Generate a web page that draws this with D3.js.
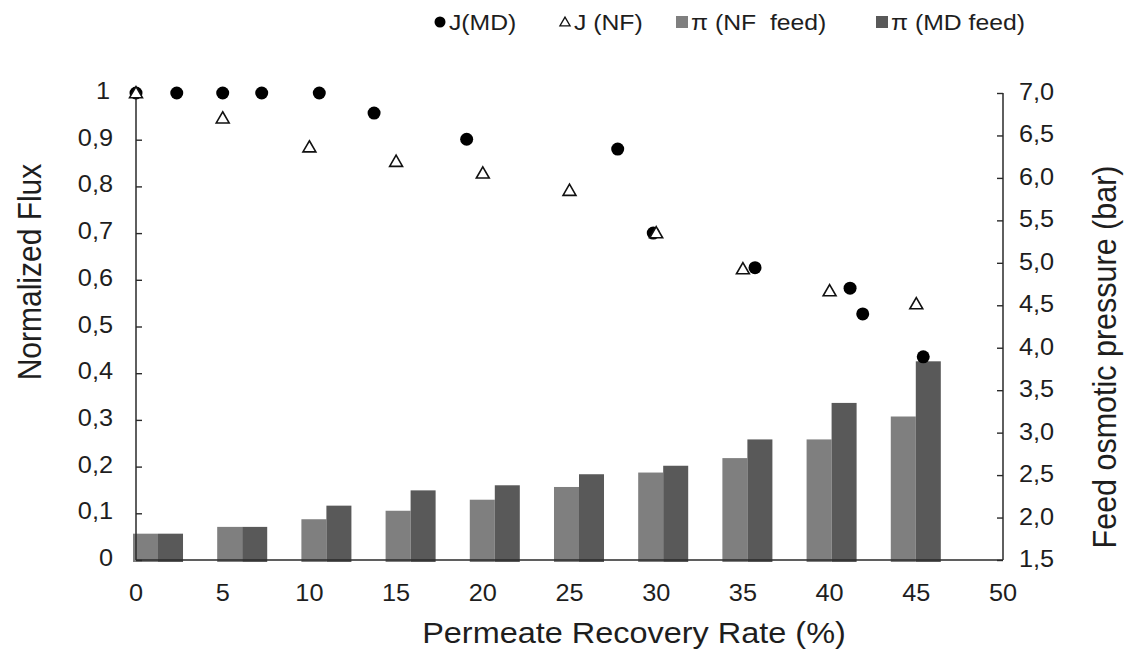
<!DOCTYPE html>
<html>
<head>
<meta charset="utf-8">
<script src="https://cdn.jsdelivr.net/npm/d3@7/dist/d3.min.js"></script>
<style>
  html, body { margin: 0; padding: 0; background: #fff; }
  svg text { font-family: "Liberation Sans", Arial, sans-serif; fill: #1e1e1e; }
</style>
</head>
<body>
<svg id="chart" width="1125" height="661"></svg>
<script>
// Recovery steps at which feed osmotic pressure was measured (%)
const recovery = [0, 5, 10, 15, 20, 25, 30, 35, 40, 45];
// Feed osmotic pressure (bar)
const piNF = [1.81, 1.89, 1.98, 2.08, 2.21, 2.36, 2.53, 2.70, 2.92, 3.19];
const piMD = [1.81, 1.89, 2.14, 2.32, 2.38, 2.51, 2.61, 2.92, 3.35, 3.84];

// Normalized flux, membrane distillation
const mdRecovery = [0, 2.35, 5.0, 7.25, 10.57, 13.73, 19.07, 27.78, 29.83, 35.70, 41.18, 41.91, 45.40];
const mdFlux = [1, 1, 1, 1, 1, 0.957, 0.901, 0.880, 0.700, 0.626, 0.582, 0.527, 0.435];

// Normalized flux, nanofiltration
const nfRecovery = [0, 5, 10, 15, 20, 25, 30, 35, 40, 45];
const nfFlux = [1, 0.946, 0.884, 0.853, 0.828, 0.791, 0.700, 0.623, 0.576, 0.548];

// Axis tick values
const xTicks = [0, 5, 10, 15, 20, 25, 30, 35, 40, 45, 50];
const fluxTicks = [0, 0.1, 0.2, 0.3, 0.4, 0.5, 0.6, 0.7, 0.8, 0.9, 1];
const piTicks = [1.5, 2.0, 2.5, 3.0, 3.5, 4.0, 4.5, 5.0, 5.5, 6.0, 6.5, 7.0];

const legendItems = [
  { type: "circle", label: "J(MD)" },
  { type: "triangle", label: "J (NF)" },
  { type: "bar", label: "\u03c0 (NF  feed)", color: "#7f7f7f" },
  { type: "bar", label: "\u03c0 (MD feed)", color: "#595959" }
];

const colNF = "#7f7f7f", colMD = "#595959", axisCol = "#2a2a2a";
const SX = 1.1; // slightly wide glyphs

const svg = d3.select("#chart");
const plotL = 136, plotR = 1003, plotT = 93, plotB = 560;

const x = d3.scaleLinear().domain([0, 50]).range([plotL, plotR]);
const yFlux = d3.scaleLinear().domain([0, 1]).range([plotB, plotT]);
const yPi = d3.scaleLinear().domain([1.5, 7]).range([plotB, plotT]);

// Category bands for the paired bars
const band = d3.scaleBand().domain(recovery).range([133, 940.8]).paddingInner(0.406).paddingOuter(0);
const sub = d3.scaleBand().domain(["NF", "MD"]).range([0, band.bandwidth()]);

function wideText(g, xPos, yPos, str, size, anchor, rot) {
  return g.append("text")
    .attr("transform", `translate(${xPos},${yPos}) scale(${SX},1)` + (rot ? ` rotate(${rot})` : ""))
    .attr("font-size", size)
    .attr("text-anchor", anchor || "start")
    .attr("xml:space", "preserve")
    .style("white-space", "pre")
    .text(str);
}

// Bars
const barG = svg.append("g");
recovery.forEach((r, i) => {
  [["NF", piNF[i], colNF], ["MD", piMD[i], colMD]].forEach(([k, v, c]) => {
    barG.append("rect")
      .attr("x", band(r) + sub(k))
      .attr("y", yPi(v))
      .attr("width", sub.bandwidth())
      .attr("height", plotB + 2 - yPi(v))
      .attr("fill", c);
  });
});

// Axis lines
const axG = svg.append("g").attr("stroke", axisCol).attr("stroke-width", 1.5).attr("fill", "none");
axG.append("line").attr("x1", plotL).attr("x2", plotL).attr("y1", plotT).attr("y2", plotB);
axG.append("line").attr("x1", plotR).attr("x2", plotR).attr("y1", plotT).attr("y2", plotB);
axG.append("line").attr("x1", plotL).attr("x2", plotR).attr("y1", plotB).attr("y2", plotB);

// Inward tick marks on both value axes
const leftAxis = d3.axisRight(yFlux).tickValues(fluxTicks).tickSize(6).tickFormat("");
svg.append("g").attr("transform", `translate(${plotL},0)`).call(leftAxis)
  .call(g => { g.select(".domain").remove(); g.selectAll("line").attr("stroke", axisCol).attr("stroke-width", 1.4); });
const rightAxis = d3.axisLeft(yPi).tickValues(piTicks).tickSize(6).tickFormat("");
svg.append("g").attr("transform", `translate(${plotR},0)`).call(rightAxis)
  .call(g => { g.select(".domain").remove(); g.selectAll("line").attr("stroke", axisCol).attr("stroke-width", 1.4); });

// Tick labels
const labG = svg.append("g");
const fmtComma = d => d3.format(".1f")(d).replace(".", ",");
fluxTicks.forEach(v => {
  const s = (v === 0 || v === 1) ? String(v) : fmtComma(v);
  wideText(labG, v === 1 ? 110 : 113, yFlux(v) + 6, s, 23, "end");
});
piTicks.forEach(v => wideText(labG, 1019, yPi(v) + 7, fmtComma(v), 23, "start"));
xTicks.forEach(v => wideText(labG, x(v), 601, String(v), 23, "middle"));

// Axis titles
wideText(labG, 634, 643, "Permeate Recovery Rate (%)", 29.5, "middle");
wideText(labG, 41, 272, "Normalized Flux", 30, "middle", -90);
wideText(labG, 1116, 357, "Feed osmotic pressure (bar)", 30.5, "middle", -90);

// Markers
const tri = d3.symbol().type(d3.symbolTriangle).size(72);
const ptG = svg.append("g");
mdRecovery.forEach((r, i) => {
  ptG.append("circle").attr("cx", x(r)).attr("cy", yFlux(mdFlux[i])).attr("r", 6.5).attr("fill", "#000");
});
nfRecovery.forEach((r, i) => {
  ptG.append("path").attr("d", tri)
    .attr("transform", `translate(${x(r)},${yFlux(nfFlux[i]) + 1})`)
    .attr("fill", "#fff").attr("stroke", "#111").attr("stroke-width", 1.6);
});

// Legend
const legG = svg.append("g");
const legX = [440, 565, 682, 882];
legendItems.forEach((it, i) => {
  const cx = legX[i], cy = 22;
  if (it.type === "circle") {
    legG.append("circle").attr("cx", cx).attr("cy", cy).attr("r", 5.5).attr("fill", "#000");
  } else if (it.type === "triangle") {
    legG.append("path").attr("d", d3.symbol().type(d3.symbolTriangle).size(45))
      .attr("transform", `translate(${cx},${cy + 1})`)
      .attr("fill", "#fff").attr("stroke", "#111").attr("stroke-width", 1.3);
  } else {
    legG.append("rect").attr("x", cx - 6).attr("y", cy - 6).attr("width", 12).attr("height", 12).attr("fill", it.color);
  }
  wideText(legG, cx + 9, cy + 8, it.label, 22.5, "start");
});
</script>
</body>
</html>
